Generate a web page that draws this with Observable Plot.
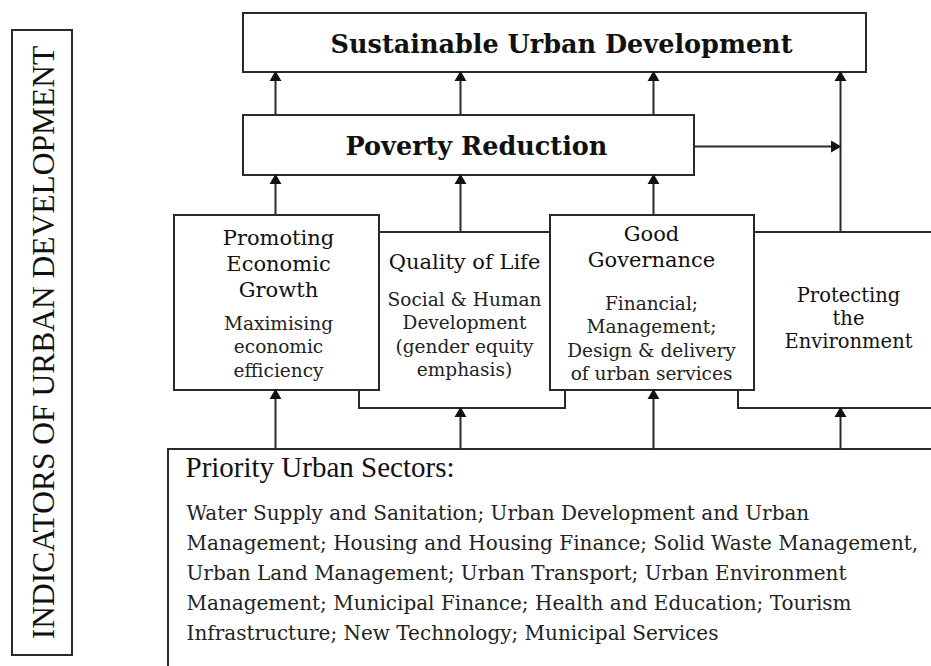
<!DOCTYPE html>
<html>
<head>
<meta charset="utf-8">
<script src="https://cdn.jsdelivr.net/npm/d3@7"></script>
<script src="https://cdn.jsdelivr.net/npm/@observablehq/plot@0.6"></script>
<style>
  html, body { margin: 0; padding: 0; background: #fff; }
  #chart svg { display: block; }
  g[aria-label="pillar-heading"] text { letter-spacing: 0.5px; }
  g[aria-label="protect-heading"] text { letter-spacing: 1.6px; }
  g[aria-label="pillar-sub"] text { letter-spacing: 0.8px; }
  g[aria-label="sector-lines"] text { letter-spacing: 1.25px; }
</style>
</head>
<body>
<div id="chart"></div>
<script>
// ---- Diagram content (boxes in drawing order: back to front) ----
const boxNames = ["Indicators", "Sustainable", "Poverty", "Quality", "Protecting", "Promoting", "Governance", "Sectors"];
const boxX1 = [12, 243, 243, 359, 738, 174, 550, 168];
const boxX2 = [72, 866, 694, 565, 990, 379, 754, 990];
const boxY1 = [30, 13, 115, 232, 232, 215, 215, 449];
const boxY2 = [655, 72, 175, 408, 408, 390, 390, 720];

// ---- Vertical arrows (from -> to, head at "to") ----
const arrowX    = [275, 460, 653, 840, 275, 460, 653, 275, 460, 653, 840];
const arrowFrom = [115, 115, 115, 232, 215, 232, 215, 449, 449, 449, 449];
const arrowTo   = [72,  72,  72,  72,  175, 175, 175, 390, 408, 390, 408];

// ---- Horizontal arrow: Poverty Reduction -> right stem ----
const hArrowX1 = [694];
const hArrowX2 = [840];
const hArrowY  = [146];

// ---- Texts ----
const sideLabel = ["INDICATORS OF URBAN DEVELOPMENT"];
const titleLabels = ["Sustainable Urban Development", "Poverty Reduction"];
const titleX = [561, 476];
const titleY = [44, 146];

const pillarLabels = ["Promoting\nEconomic\nGrowth", "Quality of Life", "Good\nGovernance"];
const pillarX = [278, 464, 651];
const pillarY = [262, 260, 245];

const protectLabel = ["Protecting\nthe\nEnvironment"];
const protectX = [848];
const protectY = [317];

const pillarSub = [
  "Maximising\neconomic\nefficiency",
  "Social & Human\nDevelopment\n(gender equity\nemphasis)",
  "Financial;\nManagement;\nDesign & delivery\nof urban services"
];
const pillarSubX = [278, 464, 651];
const pillarSubY = [345, 333, 337];

const sectorHeading = ["Priority Urban Sectors:"];
const sectorLines = [
  "Water Supply and Sanitation; Urban Development and Urban",
  "Management; Housing and Housing Finance; Solid Waste Management,",
  "Urban Land Management; Urban Transport; Urban Environment",
  "Management; Municipal Finance; Health and Education; Tourism",
  "Infrastructure; New Technology; Municipal Services"
];

// ---- Build tables ----
const boxes = boxNames.map((n, i) => ({name: n, x1: boxX1[i], x2: boxX2[i], y1: boxY1[i], y2: boxY2[i]}));
const arrows = arrowX.map((x, i) => ({x, y1: arrowFrom[i], y2: arrowTo[i]}));
const hArrows = hArrowX1.map((x1, i) => ({x1, x2: hArrowX2[i], y: hArrowY[i]}));

const ink = "#2a2a2a";
const serif = "'DejaVu Serif', serif";
const times = "'Liberation Serif', serif";

const chart = Plot.plot({
  width: 931,
  height: 666,
  margin: 0,
  x: {domain: [0, 931], range: [0, 931], axis: null},
  y: {domain: [0, 666], range: [0, 666], axis: null},
  marks: [
    Plot.rect(boxes, {x1: "x1", x2: "x2", y1: "y1", y2: "y2", fill: "white", stroke: ink, strokeWidth: 2, clip: true}),
    // vertical arrow shafts
    Plot.link(arrows, {x1: "x", x2: "x", y1: "y1", y2: d => d.y2 + 6, stroke: ink, strokeWidth: 2}),
    // arrow heads (filled triangles pointing up)
    Plot.dot(arrows, {x: "x", y: d => d.y2 + 5, symbol: "triangle", r: 4.4, fill: "#111", stroke: "none"}),
    // horizontal arrow
    Plot.link(hArrows, {x1: "x1", x2: d => d.x2 - 6, y1: "y", y2: "y", stroke: ink, strokeWidth: 2}),
    Plot.dot(hArrows, {x: d => d.x2 - 6, y: "y", symbol: "triangle", rotate: 90, r: 4.4, fill: "#111", stroke: "none"}),
    // side label
    Plot.text(sideLabel, {x: 43, y: 342, text: d => d, rotate: -90, fontSize: 31.5, fontFamily: times, fill: "#111"}),
    // titles
    Plot.text(titleLabels, {x: (d, i) => titleX[i], y: (d, i) => titleY[i], text: d => d, fontSize: 25.5, fontWeight: "bold", fontFamily: serif, fill: "#111"}),
    // pillar headings
    Plot.text(pillarLabels, {ariaLabel: "pillar-heading", x: (d, i) => pillarX[i], y: (d, i) => pillarY[i], text: d => d, fontSize: 21, lineHeight: 1.24, fontFamily: serif, fill: "#111"}),
    Plot.text(protectLabel, {ariaLabel: "protect-heading", x: (d, i) => protectX[i], y: (d, i) => protectY[i], text: d => d, fontSize: 19.5, lineHeight: 1.17, fontFamily: serif, fill: "#111"}),
    // pillar sub texts
    Plot.text(pillarSub, {ariaLabel: "pillar-sub", x: (d, i) => pillarSubX[i], y: (d, i) => pillarSubY[i], text: d => d, fontSize: 18.5, lineHeight: 1.27, fontFamily: serif, fill: "#222"}),
    // sectors
    Plot.text(sectorHeading, {x: 185, y: 467, text: d => d, textAnchor: "start", fontSize: 29, fontFamily: times, fill: "#111"}),
    Plot.text(sectorLines, {ariaLabel: "sector-lines", x: 186, y: (d, i) => 513 + 30 * i, text: d => d, textAnchor: "start", fontSize: 20, fontFamily: serif, fill: "#222"})
  ]
});

document.getElementById("chart").appendChild(chart);
</script>
</body>
</html>
